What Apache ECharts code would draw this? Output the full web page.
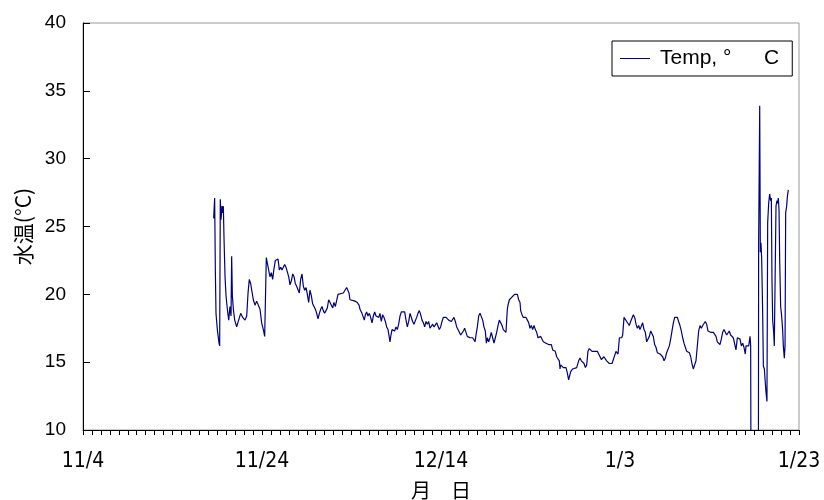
<!DOCTYPE html>
<html>
<head>
<meta charset="utf-8">
<title>水温</title>
<script src="https://cdn.jsdelivr.net/npm/echarts@6/dist/echarts.min.js"></script>
<style>
  html, body { margin: 0; padding: 0; background: #fff; }
  #chart { width: 824px; height: 500px; }
</style>
</head>
<body>
<div id="chart"></div>
<script>
// 水温ロガー記録 (11/4 からの経過日数, °C)
var xTickLabels = ['11/4', '11/24', '12/14', '1/3', '1/23'];

var days = [
  14.60, 14.71, 14.79, 14.86, 15.01, 15.20, 15.27, 15.34, 15.42, 15.53, 15.61, 15.68, 15.75, 15.87, 15.98, 16.13,
  16.28, 16.42, 16.54, 16.61, 16.69, 16.80, 16.95, 17.17, 17.39, 17.62, 17.84, 18.10, 18.29, 18.44, 18.58, 18.73,
  18.88, 19.03, 19.22, 19.40, 19.59, 19.78, 19.96, 20.15, 20.30, 20.48, 20.60, 20.74, 20.89, 21.04, 21.19, 21.34,
  21.49, 21.64, 21.79, 21.94, 22.09, 22.23, 22.38, 22.53, 22.68, 22.83, 22.98, 23.13, 23.28, 23.43, 23.58, 23.72,
  23.87, 24.02, 24.17, 24.32, 24.47, 24.62, 24.77, 24.92, 25.07, 25.21, 25.36, 25.51, 25.66, 25.81, 25.96, 26.11,
  26.26, 26.41, 26.56, 26.70, 26.85, 27.00, 27.15, 27.30, 27.45, 27.60, 27.75, 27.90, 28.04, 28.19, 28.34, 28.49,
  28.64, 29.09, 29.27, 29.46, 29.57, 29.72, 29.83, 30.02, 30.39, 30.65, 30.84, 30.95, 31.06, 31.17, 31.32, 31.43,
  31.55, 31.69, 31.84, 31.99, 32.14, 32.29, 32.44, 32.59, 32.74, 32.89, 33.04, 33.18, 33.33, 33.48, 33.63, 33.78,
  33.93, 34.08, 34.23, 34.30, 34.41, 34.53, 34.67, 34.82, 34.97, 35.12, 35.27, 35.42, 35.57, 35.79, 35.94, 36.09,
  36.24, 36.39, 36.54, 36.68, 36.83, 36.98, 37.13, 37.28, 37.43, 37.58, 37.73, 37.88, 38.03, 38.18, 38.32, 38.47,
  38.62, 38.77, 38.92, 39.07, 39.22, 39.37, 39.52, 39.66, 39.81, 39.96, 40.11, 40.26, 40.56, 40.86, 41.15, 41.30,
  41.45, 41.60, 41.75, 41.90, 42.05, 42.20, 42.35, 42.50, 42.64, 42.79, 42.94, 43.09, 43.24, 43.39, 43.54, 43.69,
  43.80, 43.91, 44.06, 44.21, 44.36, 44.51, 44.66, 44.80, 44.95, 45.07, 45.18, 45.33, 45.47, 45.62, 45.77, 45.92,
  46.07, 46.22, 46.37, 46.52, 46.67, 46.82, 46.96, 47.11, 47.26, 47.41, 47.49, 47.64, 47.78, 47.93, 48.08, 48.23,
  48.38, 48.53, 48.68, 48.83, 48.90, 49.05, 49.20, 49.35, 49.50, 49.65, 49.80, 49.94, 50.09, 50.24, 50.39, 50.54,
  50.69, 50.84, 50.99, 51.14, 51.28, 51.43, 51.73, 52.03, 52.18, 52.33, 52.48, 52.63, 52.77, 52.92, 53.07, 53.22,
  53.30, 53.37, 53.52, 53.67, 53.82, 53.97, 54.12, 54.26, 54.34, 54.49, 54.71, 54.93, 55.16, 55.38, 55.53, 55.68,
  55.83, 55.98, 56.13, 56.28, 56.42, 56.57, 56.72, 56.87, 57.02, 57.17, 57.32, 57.47, 57.62, 57.77, 57.91, 58.06,
  58.21, 58.36, 58.51, 58.66, 58.81, 58.96, 59.11, 59.26, 59.40, 59.55, 59.70, 59.78, 59.93, 60.00, 60.19, 60.30,
  60.45, 60.60, 60.75, 60.89, 61.04, 61.19, 61.34, 61.49, 61.64, 61.79, 61.94, 62.09, 62.23, 62.38, 62.53, 62.68,
  62.83, 62.98, 63.13, 63.28, 63.43, 63.58, 63.72, 63.87, 64.02, 64.17, 64.32, 64.47, 64.62, 64.77, 64.92, 65.07,
  65.21, 65.36, 65.51, 65.66, 65.81, 65.96, 66.11, 66.26, 66.41, 66.55, 66.70, 66.85, 67.00, 67.15, 67.30, 67.45,
  67.60, 67.75, 67.90, 68.04, 68.19, 68.34, 68.49, 68.64, 68.79, 68.94, 69.09, 69.24, 69.39, 69.53, 69.68, 69.83,
  69.98, 70.13, 70.28, 70.43, 70.58, 70.73, 70.87, 71.02, 71.17, 71.32, 71.47, 71.62, 71.77, 71.92, 72.07, 72.21,
  72.36, 72.51, 72.66, 72.81, 72.96, 73.11, 73.26, 73.41, 73.56, 73.71, 73.85, 74.00, 74.08, 74.23, 74.38, 74.53,
  74.60, 74.64, 75.46, 75.49, 75.61, 75.68, 75.75, 75.83, 75.94, 76.02, 76.13, 76.20, 76.31, 76.42, 76.50, 76.61,
  76.72, 76.83, 76.91, 76.98, 77.06, 77.17, 77.24, 77.35, 77.43, 77.54, 77.62, 77.69, 77.77, 77.84, 77.95, 78.06,
  78.17, 78.25, 78.36, 78.44, 78.51, 78.62, 78.70, 78.81
];

var temps = [
  25.6, 27.1, 21.6, 18.6, 17.4, 16.4, 16.2, 27.0, 25.5, 26.5, 26.0, 26.5, 24.3, 21.3, 19.9, 18.9,
  18.1, 19.1, 18.4, 22.8, 19.9, 18.9, 18.1, 17.6, 18.1, 18.6, 18.3, 18.1, 18.4, 20.1, 21.1, 20.8,
  20.8, 19.6, 19.2, 19.5, 19.6, 18.9, 17.9, 17.4, 16.9, 22.7, 22.3, 21.8, 21.3, 21.6, 21.1, 21.9,
  22.5, 22.4, 22.6, 21.8, 22.0, 21.8, 21.9, 22.2, 22.0, 22.1, 21.3, 20.7, 21.0, 21.5, 21.3, 20.8,
  20.6, 20.6, 20.1, 21.1, 21.5, 20.6, 20.3, 20.5, 20.0, 19.4, 20.3, 19.9, 19.3, 19.1, 18.9, 18.6,
  18.2, 18.6, 18.9, 19.1, 18.8, 18.6, 18.8, 19.0, 19.6, 19.5, 19.2, 19.0, 19.4, 19.1, 19.0, 20.0,
  19.9, 20.1, 20.2, 20.5, 20.6, 20.1, 19.6, 19.5, 19.5, 19.4, 19.2, 18.9, 19.0, 18.6, 18.7, 18.1,
  18.5, 18.7, 18.4, 18.6, 18.3, 17.9, 18.4, 18.7, 18.4, 18.5, 18.3, 18.6, 18.0, 18.5, 18.3, 18.0,
  17.6, 17.4, 16.8, 16.5, 17.0, 17.4, 17.5, 17.3, 17.6, 17.4, 17.8, 18.4, 18.7, 18.6, 18.7, 18.1,
  17.6, 18.0, 18.6, 18.7, 18.0, 17.8, 17.8, 18.3, 18.6, 18.8, 18.5, 18.1, 17.9, 17.6, 18.0, 17.8,
  18.0, 17.5, 17.4, 17.8, 17.6, 17.5, 17.9, 17.8, 17.4, 17.6, 18.0, 18.3, 18.3, 18.1, 18.0, 18.1,
  18.3, 18.0, 17.6, 17.4, 17.2, 17.0, 17.0, 17.3, 17.5, 17.2, 16.9, 16.9, 16.8, 16.7, 16.8, 16.9,
  16.5, 17.0, 17.6, 18.4, 18.6, 18.5, 18.1, 17.6, 17.3, 16.4, 16.8, 16.5, 16.8, 17.2, 16.8, 16.4,
  16.8, 17.2, 17.7, 18.1, 18.0, 17.7, 17.4, 17.3, 17.2, 18.9, 19.2, 19.6, 19.5, 19.8, 19.9, 20.0,
  19.9, 20.0, 19.6, 19.4, 18.8, 18.5, 18.3, 18.4, 18.3, 18.1, 17.9, 17.5, 17.7, 17.4, 17.7, 17.4,
  17.2, 16.8, 16.7, 16.9, 16.7, 16.5, 16.4, 16.3, 16.2, 16.3, 15.9, 16.0, 15.8, 15.4, 15.3, 15.1,
  14.5, 14.8, 14.9, 14.6, 14.7, 14.6, 14.2, 13.7, 13.8, 14.3, 14.5, 14.5, 14.6, 15.1, 15.3, 15.1,
  15.2, 14.9, 14.6, 14.8, 15.8, 16.0, 15.9, 15.8, 15.7, 15.8, 15.9, 15.8, 15.7, 15.4, 15.2, 15.3,
  15.4, 15.3, 15.1, 15.2, 14.9, 14.8, 14.9, 15.2, 15.3, 15.8, 15.7, 15.6, 16.8, 16.9, 16.8, 17.0,
  18.3, 18.4, 18.0, 17.9, 17.7, 18.0, 17.9, 18.5, 18.3, 17.8, 17.5, 17.7, 17.4, 17.5, 17.9, 17.4,
  17.2, 16.5, 16.4, 16.9, 17.3, 17.3, 16.9, 16.3, 16.1, 15.7, 15.8, 15.6, 15.7, 15.4, 15.1, 15.3,
  15.7, 15.7, 16.2, 16.7, 17.3, 17.9, 18.3, 18.4, 18.3, 18.0, 17.7, 17.3, 16.8, 16.4, 16.1, 15.8,
  15.9, 15.7, 15.4, 14.9, 14.5, 14.8, 15.1, 16.2, 17.3, 17.7, 17.5, 17.7, 17.8, 18.0, 17.8, 17.3,
  17.2, 17.2, 17.1, 17.2, 17.3, 16.9, 16.5, 16.4, 16.3, 16.7, 17.2, 17.4, 17.3, 17.0, 16.9, 17.3,
  17.0, 16.9, 16.8, 16.7, 15.9, 16.8, 16.9, 16.7, 16.2, 16.4, 16.1, 15.6, 16.2, 16.3, 16.2, 16.9,
  16.2, 5.0, 5.0, 23.8, 33.9, 23.1, 23.8, 22.6, 18.6, 14.7, 14.5, 13.8, 12.8, 12.1, 25.3, 26.7,
  27.4, 26.9, 27.1, 21.1, 18.1, 17.2, 16.2, 16.2, 26.5, 26.9, 26.7, 27.1, 26.2, 22.6, 19.1, 18.4,
  17.4, 16.2, 15.3, 16.2, 26.0, 26.5, 27.2, 27.7
];

(function () {
  var chart = echarts.init(document.getElementById('chart'), null, { renderer: 'canvas' });
  var latin = '"Liberation Sans", Arial, "Noto Sans CJK JP", sans-serif';
  var jp = '"Noto Sans CJK JP", "Liberation Sans", sans-serif';
  var seriesName = 'Temp, °　  C';

  chart.setOption({
    animation: false,
    backgroundColor: '#fff',
    grid: {
      left: 83, right: 25, top: 23, bottom: 70,
      containLabel: false, outerBoundsMode: 'none',
      show: true, borderColor: '#999', borderWidth: 1
    },
    legend: {
      data: [{ name: seriesName, icon: 'rect' }],
      left: 612, top: 41,
      padding: [7, 13, 7, 8],
      borderColor: '#000', borderWidth: 1,
      itemWidth: 30, itemHeight: 1,
      itemStyle: { color: '#000080' },
      textStyle: { color: '#000', fontSize: 21, fontFamily: latin, padding: [0, 0, 0, 5] }
    },
    xAxis: {
      type: 'value', min: 0, max: 80, interval: 20,
      name: '月　日', nameLocation: 'middle', nameGap: 50,
      nameTextStyle: { color: '#000', fontSize: 20, fontFamily: jp },
      axisLine: { lineStyle: { color: '#000', width: 1 } },
      axisTick: { show: true, length: 5, lineStyle: { color: '#000' } },
      minorTick: { show: true, splitNumber: 20, length: 5, lineStyle: { color: '#000' } },
      splitLine: { show: false },
      axisLabel: {
        color: '#000', fontSize: 21, margin: 21,
        fontFamily: '"DejaVu Sans Condensed", "Liberation Sans Narrow", sans-serif',
        formatter: function (v) { return xTickLabels[Math.round(v / 20)]; }
      }
    },
    yAxis: {
      type: 'value', min: 10, max: 40, interval: 5,
      name: '水温(°C)', nameLocation: 'middle', nameGap: 46, nameRotate: 90,
      nameTextStyle: { color: '#000', fontSize: 21, fontFamily: jp },
      axisLine: { show: true, lineStyle: { color: '#000', width: 1 } },
      axisTick: { show: true, inside: true, length: 7, lineStyle: { color: '#000' } },
      splitLine: { show: false },
      axisLabel: { color: '#000', fontSize: 19, margin: 17, fontFamily: latin }
    },
    series: [{
      name: seriesName,
      type: 'line',
      data: days.map(function (d, i) { return [d, temps[i]]; }),
      symbol: 'none',
      clip: true,
      lineStyle: { color: '#000080', width: 1.2 },
      itemStyle: { color: '#000080' }
    }]
  });
})();
</script>
</body>
</html>
